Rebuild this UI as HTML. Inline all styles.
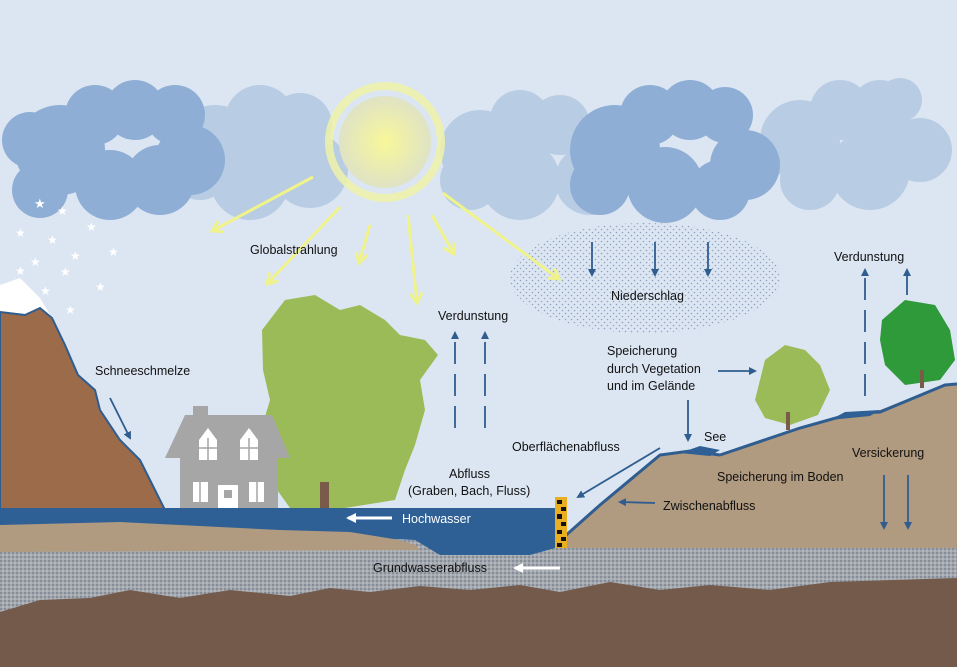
<!DOCTYPE html>
<html><head><meta charset="utf-8"><style>
html,body{margin:0;padding:0;background:#dce6f2}
svg{display:block}
text{font-family:"Liberation Sans",sans-serif;font-size:12.5px;fill:#111}
</style></head><body>
<svg width="957" height="667" viewBox="0 0 957 667" xmlns="http://www.w3.org/2000/svg">
<defs>
<radialGradient id="sun" cx="50%" cy="50%" r="50%"><stop offset="0" stop-color="#f8f79a"/><stop offset="1" stop-color="#dfe3c4"/></radialGradient>
<pattern id="dots" width="6" height="6" patternUnits="userSpaceOnUse"><circle cx="1.5" cy="1.5" r="0.8" fill="#8fa3bf"/><circle cx="4.5" cy="4.5" r="0.8" fill="#8fa3bf"/></pattern>
<pattern id="grav" width="4" height="4" patternUnits="userSpaceOnUse"><rect width="4" height="4" fill="#a2a8ae"/><circle cx="1" cy="1" r="1" fill="#7d8590"/><circle cx="3" cy="3" r="0.8" fill="#c4c8cc"/></pattern>
<marker id="ab" markerWidth="8" markerHeight="8" refX="6" refY="4" orient="auto" markerUnits="userSpaceOnUse"><path d="M0,0 L8,4 L0,8 z" fill="#2f5d8f"/></marker>
<marker id="ay" markerWidth="14" markerHeight="14" refX="11" refY="7" orient="auto" markerUnits="userSpaceOnUse"><path d="M1,1 L11,7 L1,13" fill="none" stroke="#f0f28a" stroke-width="3"/></marker>
<marker id="aw" markerWidth="10" markerHeight="10" refX="8" refY="5" orient="auto" markerUnits="userSpaceOnUse"><path d="M0,0 L10,5 L0,10 z" fill="#fff"/></marker>
</defs>
<rect width="957" height="667" fill="#dce6f2"/>
<g fill="#b8cce4">
<circle cx="215" cy="150" r="45"/><circle cx="260" cy="120" r="35"/><circle cx="300" cy="125" r="32"/><circle cx="310" cy="170" r="38"/><circle cx="250" cy="180" r="40"/><circle cx="200" cy="170" r="30"/>
<circle cx="480" cy="150" r="40"/><circle cx="520" cy="120" r="30"/><circle cx="560" cy="125" r="30"/><circle cx="470" cy="180" r="30"/><circle cx="520" cy="180" r="40"/><circle cx="590" cy="180" r="35"/>
<circle cx="800" cy="140" r="40"/><circle cx="840" cy="110" r="30"/><circle cx="880" cy="110" r="30"/><circle cx="920" cy="150" r="32"/><circle cx="870" cy="170" r="40"/><circle cx="810" cy="180" r="30"/><circle cx="900" cy="100" r="22"/>
</g>
<g fill="#8eaed6">
<circle cx="60" cy="150" r="45"/><circle cx="95" cy="115" r="30"/><circle cx="135" cy="110" r="30"/><circle cx="175" cy="115" r="30"/><circle cx="190" cy="160" r="35"/><circle cx="40" cy="190" r="28"/><circle cx="110" cy="185" r="35"/><circle cx="160" cy="180" r="35"/><circle cx="30" cy="140" r="28"/>
<circle cx="615" cy="150" r="45"/><circle cx="650" cy="115" r="30"/><circle cx="690" cy="110" r="30"/><circle cx="725" cy="115" r="28"/><circle cx="745" cy="165" r="35"/><circle cx="600" cy="185" r="30"/><circle cx="665" cy="185" r="38"/><circle cx="720" cy="190" r="30"/>
</g>
<circle cx="385" cy="142" r="56" fill="none" stroke="#eef2a8" stroke-width="8" opacity="0.85"/>
<circle cx="385" cy="142" r="46" fill="url(#sun)"/>
<ellipse cx="645" cy="278" rx="135" ry="55" fill="url(#dots)"/>
<g stroke="#f0f28a" stroke-width="3" fill="none">
<line x1="313" y1="177" x2="212" y2="231" marker-end="url(#ay)"/>
<line x1="340" y1="207" x2="267" y2="284" marker-end="url(#ay)"/>
<line x1="370" y1="225" x2="359" y2="263" marker-end="url(#ay)"/>
<line x1="408" y1="215" x2="417" y2="303" marker-end="url(#ay)"/>
<line x1="432" y1="215" x2="454" y2="254" marker-end="url(#ay)"/>
<line x1="443" y1="193" x2="559" y2="279" marker-end="url(#ay)"/>
</g>
<g>
<text x="34" y="208" style="fill:#fff;font-size:13px">★</text><text x="57" y="215" style="fill:#fff;font-size:12px">★</text>
<text x="15" y="237" style="fill:#fff;font-size:12px">★</text><text x="47" y="244" style="fill:#fff;font-size:12px">★</text><text x="86" y="231" style="fill:#fff;font-size:12px">★</text>
<text x="30" y="266" style="fill:#fff;font-size:12px">★</text><text x="70" y="260" style="fill:#fff;font-size:12px">★</text><text x="108" y="256" style="fill:#fff;font-size:12px">★</text>
<text x="15" y="275" style="fill:#fff;font-size:12px">★</text><text x="60" y="276" style="fill:#fff;font-size:12px">★</text><text x="95" y="291" style="fill:#fff;font-size:12px">★</text>
<text x="40" y="295" style="fill:#fff;font-size:12px">★</text><text x="65" y="314" style="fill:#fff;font-size:12px">★</text>
</g>
<path d="M0,312 L0,285 L20,278 L40,298 L52,318 L40,310 L25,315 Z" fill="#fff"/>
<path d="M0,312 L25,315 L40,308 L52,318 L65,345 L78,375 L95,390 L100,410 L120,440 L140,460 L155,490 L165,510 L0,510 Z" fill="#9b6b4a" stroke="#2f5d8f" stroke-width="2"/>
<path d="M262,330 L285,300 L315,295 L340,310 L360,305 L385,320 L400,335 L425,340 L438,355 L420,380 L425,410 L415,445 L405,470 L395,500 L345,508 L290,508 L270,480 L258,440 L270,400 L263,370 Z" fill="#9bbb59"/>
<rect x="320" y="482" width="9" height="28" fill="#7a5a48"/>
<g fill="#a6a6a6">
<rect x="193" y="406" width="15" height="12"/>
<path d="M165,458 L185,415 L272,415 L290,458 Z"/>
<rect x="180" y="455" width="98" height="55"/>
</g>
<g fill="#fff">
<path d="M199,460 L199,440 L208,428 L217,440 L217,460 Z"/><path d="M240,460 L240,440 L249,428 L258,440 L258,460 Z"/>
<rect x="193" y="482" width="15" height="20"/><rect x="249" y="482" width="15" height="20"/><rect x="218" y="485" width="20" height="25"/>
</g>
<g stroke="#a6a6a6" stroke-width="1.5"><line x1="208" y1="438" x2="208" y2="460"/><line x1="249" y1="438" x2="249" y2="460"/><line x1="199" y1="448" x2="217" y2="448"/><line x1="240" y1="448" x2="258" y2="448"/><line x1="200" y1="482" x2="200" y2="502"/><line x1="257" y1="482" x2="257" y2="502"/></g>
<rect x="224" y="490" width="8" height="8" fill="#a6a6a6"/>
<rect x="0" y="540" width="957" height="127" fill="url(#grav)"/>
<path d="M0,612 L40,600 L90,598 L130,590 L180,598 L230,590 L290,596 L330,588 L370,592 L420,586 L470,590 L520,585 L560,592 L610,582 L660,590 L710,585 L770,590 L830,582 L957,578 L957,667 L0,667 Z" fill="#735a4a"/>
<path d="M0,508 L555,508 L555,548 L530,555 L440,555 L415,540 L0,525 Z" fill="#2e5f95"/>
<path d="M0,525 L120,522 L280,530 L350,532 L400,540 L415,545 L420,550 L0,552 Z" fill="#b09a80"/>
<path d="M555,548 L555,545 L600,505 L660,455 L690,451 L720,455 L800,427 L830,420 L880,410 L945,385 L957,385 L957,548 Z" fill="#b09a80"/>
<path d="M555,545 L600,505 L660,455 L690,451 L720,455 M720,455 L800,428 L850,414 L880,412 L945,385 L957,384" fill="none" stroke="#2f5d8f" stroke-width="3"/>
<path d="M680,453 L700,446 L720,450 L710,456 Z" fill="#2e5f95"/>
<path d="M830,420 L845,412 L880,410 L870,416 Z" fill="#2e5f95"/>
<rect x="555" y="497" width="12" height="51" fill="#e8b020"/>
<g fill="#111"><rect x="557" y="500" width="5" height="4"/><rect x="561" y="507" width="5" height="4"/><rect x="557" y="514" width="5" height="5"/><rect x="561" y="522" width="5" height="4"/><rect x="557" y="530" width="5" height="4"/><rect x="561" y="537" width="5" height="4"/><rect x="557" y="543" width="5" height="4"/></g>
<path d="M765,360 L785,345 L805,350 L820,365 L830,390 L818,415 L790,425 L765,418 L755,400 Z" fill="#9bbb59"/>
<rect x="786" y="412" width="4" height="18" fill="#7a5a48"/>
<path d="M882,320 L905,300 L935,305 L950,330 L955,360 L940,380 L905,385 L885,365 L880,340 Z" fill="#2e9a3a"/>
<rect x="920" y="370" width="4" height="18" fill="#7a5a48"/>
<g stroke="#2f5d8f" stroke-width="1.8" fill="none">
<line x1="455" y1="428" x2="455" y2="333" stroke-dasharray="22,10" marker-end="url(#ab)"/>
<line x1="485" y1="428" x2="485" y2="333" stroke-dasharray="22,10" marker-end="url(#ab)"/>
<line x1="865" y1="396" x2="865" y2="270" stroke-dasharray="22,10" marker-end="url(#ab)"/>
<line x1="907" y1="295" x2="907" y2="270" marker-end="url(#ab)"/>
<line x1="592" y1="242" x2="592" y2="275" marker-end="url(#ab)"/>
<line x1="655" y1="242" x2="655" y2="275" marker-end="url(#ab)"/>
<line x1="708" y1="242" x2="708" y2="275" marker-end="url(#ab)"/>
<line x1="884" y1="475" x2="884" y2="528" marker-end="url(#ab)"/>
<line x1="908" y1="475" x2="908" y2="528" marker-end="url(#ab)"/>
<line x1="110" y1="398" x2="130" y2="438" marker-end="url(#ab)"/>
<line x1="718" y1="371" x2="755" y2="371" marker-end="url(#ab)"/>
<line x1="688" y1="400" x2="688" y2="440" marker-end="url(#ab)"/>
<line x1="660" y1="448" x2="578" y2="497" marker-end="url(#ab)"/>
<line x1="655" y1="503" x2="620" y2="502" marker-end="url(#ab)"/>
</g>
<g stroke="#fff" stroke-width="3">
<line x1="392" y1="518" x2="348" y2="518" marker-end="url(#aw)"/>
<line x1="560" y1="568" x2="515" y2="568" marker-end="url(#aw)"/>
</g>
<text x="250" y="254">Globalstrahlung</text>
<text x="438" y="320">Verdunstung</text>
<text x="611" y="300">Niederschlag</text>
<text x="95" y="375">Schneeschmelze</text>
<text x="607" y="355">Speicherung</text>
<text x="607" y="373">durch Vegetation</text>
<text x="607" y="390">und im Gelände</text>
<text x="704" y="441">See</text>
<text x="512" y="451">Oberflächenabfluss</text>
<text x="449" y="478">Abfluss</text>
<text x="408" y="495">(Graben, Bach, Fluss)</text>
<text x="402" y="523" style="fill:#fff">Hochwasser</text>
<text x="663" y="510">Zwischenabfluss</text>
<text x="717" y="481">Speicherung im Boden</text>
<text x="852" y="457">Versickerung</text>
<text x="834" y="261">Verdunstung</text>
<text x="373" y="572">Grundwasserabfluss</text>
</svg>
</body></html>
